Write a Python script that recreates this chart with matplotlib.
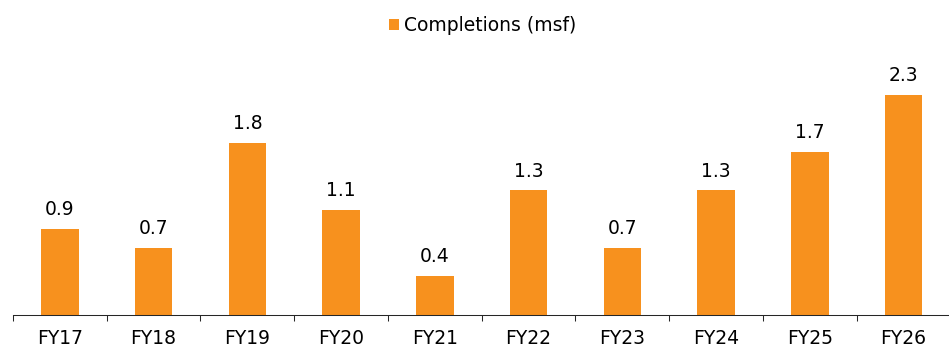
import matplotlib
matplotlib.use("Agg")
from matplotlib import pyplot as plt
import numpy as np

years = ["FY17", "FY18", "FY19", "FY20", "FY21", "FY22", "FY23", "FY24", "FY25", "FY26"]
completions = [0.9, 0.7, 1.8, 1.1, 0.4, 1.3, 0.7, 1.3, 1.7, 2.3]
series_name = "Completions (msf)"

bar_color = "#F7911E"
axis_color = "#262626"
font_size = 13.5

plt.rcParams["font.family"] = ["DejaVu Sans"]

fig = plt.figure(figsize=(9.49, 3.47), dpi=100)
ax = fig.add_axes([13 / 949, 32.5 / 347, 937.4 / 949, 274.5 / 347])

x = np.arange(len(years))
bars = ax.bar(x, completions, width=0.4, color=bar_color, label=series_name, zorder=2)

for xi, v in zip(x, completions):
    ax.annotate(f"{v:.1f}", (xi, v), xytext=(0, 10), textcoords="offset points",
                ha="center", va="baseline", fontsize=font_size, color="black")

ax.set_xlim(-0.5, len(years) - 0.5)
ax.set_ylim(0, 2.877)

# boundary ticks between categories, labels on minor ticks at bar centres
ax.set_xticks(np.arange(-0.5, len(years), 1.0))
ax.set_xticklabels([])
ax.set_xticks(x, minor=True)
ax.set_xticklabels(years, minor=True, fontsize=font_size)
ax.tick_params(axis="x", which="major", direction="out", length=4.3, width=0.75, color=axis_color)
ax.tick_params(axis="x", which="minor", length=0, pad=10.8, labelcolor="black")
ax.set_yticks([])

for side in ["left", "top", "right"]:
    ax.spines[side].set_visible(False)
ax.spines["bottom"].set_color(axis_color)
ax.spines["bottom"].set_linewidth(0.75)

fig.legend(handles=[bars], labels=[series_name], loc="center",
           bbox_to_anchor=(482.5 / 949, 1 - 25.5 / 347), frameon=False,
           fontsize=font_size, handlelength=0.55, handleheight=0.55,
           handletextpad=0.25, borderpad=0)

fig.savefig("out.png", dpi=100)
